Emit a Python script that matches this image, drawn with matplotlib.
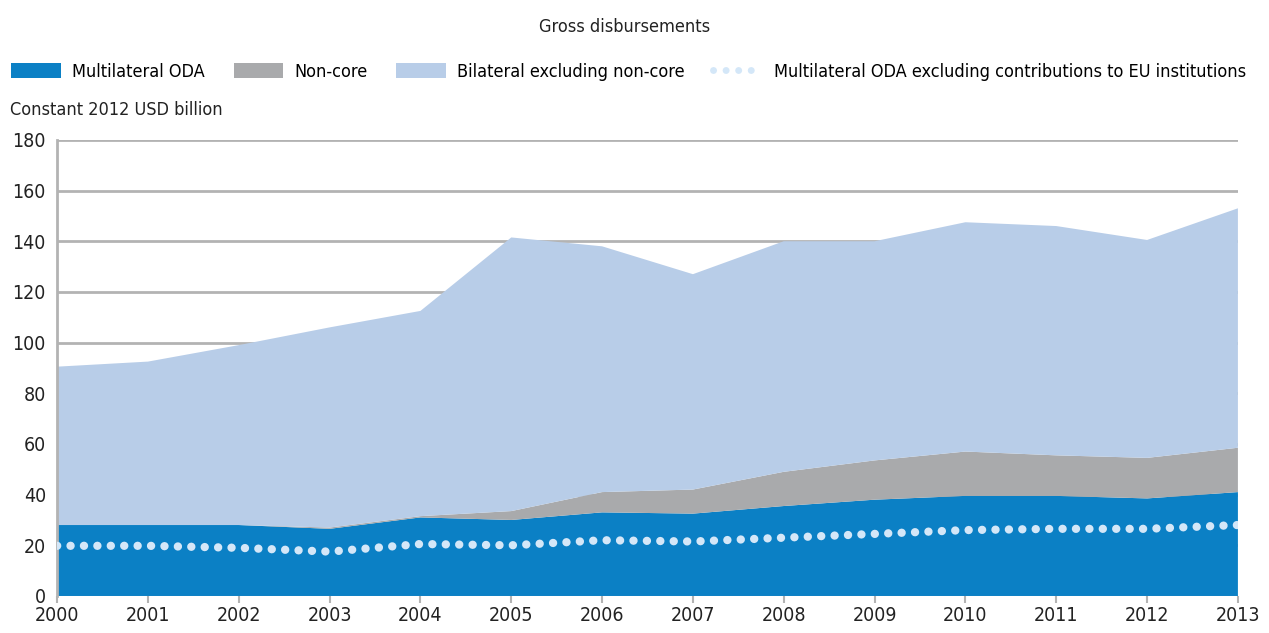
import numpy as np
import matplotlib.pyplot as plt
from matplotlib.patches import Patch
from matplotlib.lines import Line2D

plt.rcParams['font.family'] = ['DejaVu Sans']
plt.rcParams['font.stretch'] = 'condensed'

years = list(range(2000, 2014))
multilateral = [28, 28, 28, 26.5, 31, 30, 33, 32.5, 35.5, 38, 39.5, 39.5, 38.5, 41]
non_core = [0, 0, 0, 0.5, 0.5, 3.5, 8, 9.5, 13.5, 15.5, 17.5, 16, 16, 17.5]
total = [90.5, 92.5, 99, 106, 112.5, 141.5, 138, 127, 140, 140, 147.5, 146, 140.5, 153]
multi_excl_eu = [19.8, 19.8, 19, 17.5, 20.5, 20, 22, 21.5, 23, 24.5, 26, 26.5, 26.5, 28]

bilateral = [t - m - n for t, m, n in zip(total, multilateral, non_core)]

c_multi = '#0b80c5'
c_noncore = '#a9aaac'
c_bilat = '#b8cde8'
c_dots = '#d4e7f8'

fig = plt.figure(figsize=(12.69, 6.33), dpi=100)
ax = fig.add_axes([0.045, 0.0585, 0.9305, 0.7205])

ax.stackplot(years, multilateral, non_core, bilateral,
             colors=[c_multi, c_noncore, c_bilat], linewidth=0, zorder=2)
ax.plot(years, multi_excl_eu, color=c_dots, linewidth=6,
        linestyle=(0, (0.01, 1.6)), dash_capstyle='round', zorder=3)

ax.set_xlim(2000, 2013)
ax.set_ylim(0, 180)
ax.set_yticks(np.arange(0, 181, 20))
ax.set_xticks(years)
ax.grid(axis='y', color='#b3b3b3', linewidth=2, zorder=1)
ax.set_axisbelow(True)
for s in ['top', 'right', 'bottom']:
    ax.spines[s].set_visible(False)
ax.spines['left'].set_color('#b3b3b3')
ax.spines['left'].set_linewidth(2)
ax.tick_params(axis='y', length=0, labelsize=14, pad=8, colors='#222222')
ax.tick_params(axis='x', length=5, color='#b3b3b3', width=1.5, labelsize=14,
               pad=2, colors='#222222')

fig.text(0.492, 0.958, 'Gross disbursements', ha='center', va='center',
         fontsize=13, color='#222222')
fig.text(0.008, 0.826, 'Constant 2012 USD billion', ha='left', va='center',
         fontsize=13, color='#222222')

handles = [
    Patch(facecolor=c_multi, label='Multilateral ODA'),
    Patch(facecolor=c_noncore, label='Non-core'),
    Patch(facecolor=c_bilat, label='Bilateral excluding non-core'),
    Line2D([], [], color=c_dots, linewidth=5, linestyle=(0, (0.01, 1.8)),
           dash_capstyle='round', label='Multilateral ODA excluding contributions to EU institutions'),
]
fig.legend(handles=handles, loc='center left', bbox_to_anchor=(0.009, 0.886),
           ncol=4, frameon=False, fontsize=13, handlelength=2.75, handleheight=0.9,
           columnspacing=1.6, handletextpad=0.6, borderaxespad=0, borderpad=0)

fig.savefig('out.png', dpi=100)
